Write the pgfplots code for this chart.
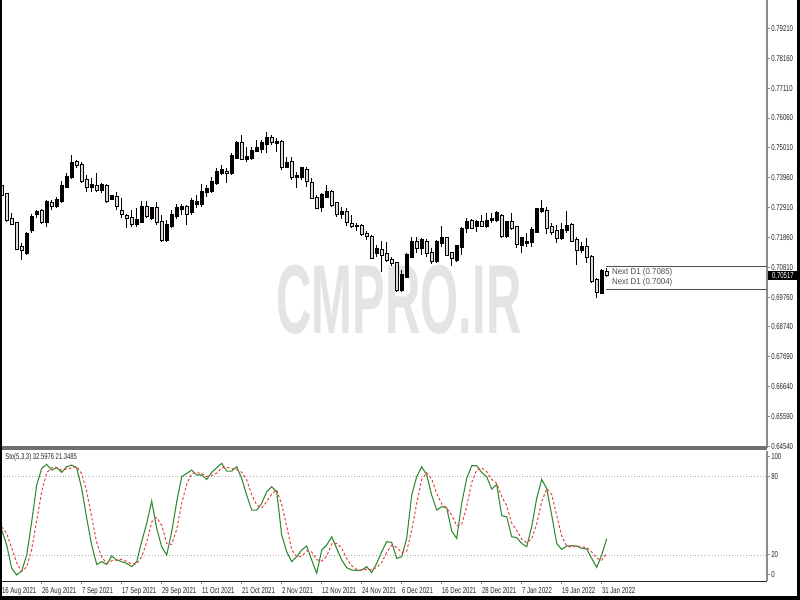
\documentclass[border=0pt]{standalone}
\usepackage{fontspec}
\setmainfont{Liberation Sans}[FakeStretch=0.7]
\newfontfamily\nextfont{Liberation Sans}[FakeStretch=0.92]
\newfontfamily\markfont{Liberation Sans}[FakeStretch=0.5]
\usepackage{pgfplots}
\usepackage{pgfplotstable}
\pgfplotsset{compat=1.18}

\definecolor{stoK}{RGB}{52,140,52}
\definecolor{stoD}{RGB}{232,64,64}
\definecolor{bearfill}{RGB}{226,216,219}
\definecolor{sepgray}{RGB}{112,112,112}
\definecolor{axgray}{RGB}{140,140,140}
\definecolor{lvlgray}{RGB}{175,175,175}
\definecolor{markgray}{RGB}{228,228,228}
\definecolor{nextgray}{RGB}{80,80,80}

\newcommand{\tickfont}{\fontsize{4.3}{5}\selectfont}

% daily bars, k = bar index from 16 Aug 2021
\pgfplotstableread{
k o h l c
0 0.7368 0.7375 0.7329 0.7336
1 0.7339 0.7343 0.7241 0.7248
2 0.7252 0.7273 0.7231 0.7234
3 0.7238 0.7241 0.7143 0.7146
4 0.7153 0.7167 0.7108 0.7143
5 0.7132 0.7206 0.7125 0.7199
6 0.7210 0.7269 0.7203 0.7259
7 0.7266 0.7283 0.7255 0.7276
8 0.7280 0.7287 0.7234 0.7238
9 0.7238 0.7318 0.7224 0.7311
10 0.7308 0.7318 0.7283 0.7297
11 0.7297 0.7329 0.7290 0.7318
12 0.7315 0.7385 0.7308 0.7368
13 0.7364 0.7413 0.7361 0.7399
14 0.7399 0.7476 0.7392 0.7448
15 0.7452 0.7459 0.7431 0.7438
16 0.7441 0.7452 0.7378 0.7382
17 0.7389 0.7406 0.7346 0.7364
18 0.7364 0.7396 0.7346 0.7371
19 0.7368 0.7413 0.7346 0.7353
20 0.7353 0.7378 0.7343 0.7371
21 0.7368 0.7375 0.7308 0.7315
22 0.7322 0.7336 0.7318 0.7332
23 0.7329 0.7346 0.7283 0.7297
24 0.7280 0.7325 0.7255 0.7266
25 0.7262 0.7269 0.7220 0.7252
26 0.7255 0.7283 0.7224 0.7231
27 0.7231 0.7290 0.7224 0.7248
28 0.7241 0.7315 0.7238 0.7294
29 0.7294 0.7315 0.7255 0.7262
30 0.7255 0.7294 0.7248 0.7290
31 0.7290 0.7311 0.7231 0.7241
32 0.7241 0.7266 0.7171 0.7178
33 0.7178 0.7248 0.7171 0.7231
34 0.7224 0.7283 0.7220 0.7266
35 0.7259 0.7304 0.7252 0.7290
36 0.7287 0.7304 0.7266 0.7294
37 0.7294 0.7301 0.7231 0.7269
38 0.7273 0.7325 0.7266 0.7315
39 0.7304 0.7336 0.7290 0.7311
40 0.7304 0.7375 0.7294 0.7346
41 0.7346 0.7371 0.7329 0.7357
42 0.7350 0.7399 0.7343 0.7382
43 0.7378 0.7431 0.7371 0.7417
44 0.7413 0.7441 0.7406 0.7424
45 0.7417 0.7431 0.7378 0.7410
46 0.7413 0.7483 0.7406 0.7473
47 0.7466 0.7525 0.7462 0.7518
48 0.7518 0.7547 0.7459 0.7462
49 0.7462 0.7504 0.7452 0.7469
50 0.7466 0.7504 0.7459 0.7490
51 0.7490 0.7529 0.7487 0.7501
52 0.7497 0.7529 0.7483 0.7518
53 0.7515 0.7557 0.7483 0.7539
54 0.7539 0.7547 0.7511 0.7522
55 0.7518 0.7536 0.7487 0.7525
56 0.7522 0.7529 0.7424 0.7431
57 0.7434 0.7469 0.7431 0.7448
58 0.7452 0.7469 0.7389 0.7399
59 0.7399 0.7417 0.7361 0.7403
60 0.7396 0.7434 0.7389 0.7431
61 0.7424 0.7434 0.7364 0.7382
62 0.7378 0.7396 0.7322 0.7325
63 0.7325 0.7336 0.7287 0.7290
64 0.7294 0.7343 0.7276 0.7336
65 0.7329 0.7371 0.7325 0.7346
66 0.7346 0.7353 0.7294 0.7301
67 0.7308 0.7311 0.7259 0.7266
68 0.7266 0.7294 0.7252 0.7276
69 0.7276 0.7290 0.7227 0.7238
70 0.7234 0.7266 0.7220 0.7224
71 0.7224 0.7238 0.7210 0.7227
72 0.7227 0.7234 0.7192 0.7199
73 0.7199 0.7210 0.7178 0.7189
74 0.7189 0.7196 0.7111 0.7115
75 0.7132 0.7160 0.7118 0.7146
76 0.7143 0.7174 0.7066 0.7125
77 0.7129 0.7171 0.7101 0.7108
78 0.7108 0.7118 0.7087 0.7094
79 0.7097 0.7101 0.6995 0.7002
80 0.7002 0.7073 0.6995 0.7055
81 0.7048 0.7132 0.7045 0.7125
82 0.7118 0.7189 0.7115 0.7171
83 0.7174 0.7189 0.7132 0.7150
84 0.7150 0.7185 0.7125 0.7178
85 0.7174 0.7182 0.7118 0.7132
86 0.7132 0.7150 0.7094 0.7101
87 0.7101 0.7178 0.7097 0.7171
88 0.7167 0.7227 0.7153 0.7185
89 0.7185 0.7189 0.7122 0.7125
90 0.7132 0.7136 0.7087 0.7115
91 0.7108 0.7160 0.7101 0.7157
92 0.7153 0.7224 0.7125 0.7217
93 0.7217 0.7255 0.7203 0.7241
94 0.7245 0.7252 0.7217 0.7220
95 0.7227 0.7248 0.7206 0.7241
96 0.7241 0.7266 0.7224 0.7227
97 0.7227 0.7273 0.7220 0.7245
98 0.7245 0.7273 0.7238 0.7252
99 0.7248 0.7280 0.7241 0.7273
100 0.7262 0.7269 0.7185 0.7189
101 0.7189 0.7245 0.7185 0.7241
102 0.7241 0.7273 0.7213 0.7220
103 0.7224 0.7227 0.7150 0.7164
104 0.7160 0.7189 0.7132 0.7185
105 0.7167 0.7203 0.7153 0.7171
106 0.7171 0.7224 0.7153 0.7213
107 0.7206 0.7290 0.7203 0.7287
108 0.7280 0.7318 0.7273 0.7287
109 0.7280 0.7294 0.7199 0.7217
110 0.7224 0.7238 0.7196 0.7206
111 0.7210 0.7231 0.7167 0.7185
112 0.7185 0.7238 0.7178 0.7213
113 0.7210 0.7280 0.7203 0.7227
114 0.7231 0.7238 0.7171 0.7174
115 0.7178 0.7189 0.7090 0.7143
116 0.7143 0.7171 0.7132 0.7153
117 0.7153 0.7185 0.7097 0.7118
118 0.7118 0.7125 0.7027 0.7034
119 0.7038 0.7045 0.6974 0.6995
120 0.6992 0.7076 0.6988 0.7069
121 0.7066 0.7080 0.7048 0.7052
}\ohlc

% Sto(5,3,3): K main line, D signal line
\pgfplotstableread{
k K D
0 39.1 41.7
1 27.6 36.5
2 9.8 25.5
3 4.7 14.0
4 7.7 7.4
5 20.0 10.8
6 45.5 24.4
7 73.6 46.4
8 86.4 68.5
9 89.4 83.1
10 85.1 87.0
11 86.9 87.1
12 83.3 85.1
13 87.6 85.9
14 88.9 86.6
15 86.9 87.8
16 71.0 82.3
17 48.1 68.7
18 27.6 48.9
19 12.8 29.5
20 14.9 18.4
21 12.8 13.5
22 19.2 15.6
23 16.2 16.1
24 14.9 16.8
25 13.6 14.9
26 11.1 13.2
27 14.9 13.2
28 30.2 18.7
29 44.3 29.8
30 61.3 45.3
31 40.4 48.7
32 26.3 42.7
33 20.0 28.9
34 37.9 28.1
35 60.8 39.6
36 80.0 59.6
37 82.5 74.4
38 85.1 82.5
39 81.3 83.0
40 81.3 82.6
41 77.9 80.2
42 83.3 80.8
43 86.9 82.7
44 90.2 86.8
45 84.3 87.1
46 84.3 86.3
47 87.6 85.4
48 78.7 83.5
49 65.9 77.4
50 54.4 66.3
51 54.4 58.2
52 59.6 56.1
53 68.5 60.8
54 72.3 66.8
55 68.5 69.8
56 35.3 58.7
57 22.5 42.1
58 14.9 24.2
59 18.7 18.7
60 23.8 19.1
61 26.9 23.1
62 16.2 22.3
63 6.0 16.4
64 23.8 15.3
65 27.6 19.1
66 34.0 28.5
67 25.1 28.9
68 16.2 25.1
69 10.3 17.2
70 8.5 11.7
71 8.0 8.9
72 8.5 8.3
73 11.1 9.2
74 6.5 8.7
75 13.6 10.4
76 22.5 14.2
77 30.2 22.1
78 29.7 27.5
79 17.4 25.8
80 18.7 21.9
81 32.7 22.9
82 65.9 39.1
83 80.0 59.5
84 87.6 77.8
85 81.3 83.0
86 65.9 78.3
87 54.4 67.2
88 57.0 59.1
89 56.2 55.9
90 38.4 50.5
91 32.7 42.4
92 59.6 43.6
93 78.7 57.0
94 88.4 75.6
95 88.4 85.2
96 83.3 86.7
97 80.0 83.9
98 70.5 77.9
99 74.1 74.9
100 50.1 64.9
101 49.3 57.8
102 34.0 44.5
103 33.3 38.9
104 28.9 32.1
105 26.3 29.5
106 41.7 32.3
107 63.4 43.8
108 77.9 61.0
109 71.0 70.8
110 50.6 66.5
111 28.9 50.2
112 24.3 34.6
113 26.9 26.7
114 27.1 26.1
115 26.9 27.0
116 25.1 26.4
117 24.6 25.5
118 17.4 22.4
119 10.5 17.5
120 20.0 16.0
121 32.6 21.3
}\sto

\begin{document}
\begin{tikzpicture}
\useasboundingbox (0,0) rectangle (400pt,300pt);
\fill[white] (0,0) rectangle (400pt,300pt);
% watermark behind everything
\node[text=markgray, font=\markfont\bfseries\fontsize{49}{50}\selectfont] at (199.5pt,150pt) {CMPRO.IR};

% price window
\begin{axis}[
  name=price, at={(0.5pt,76pt)}, anchor=south west, scale only axis,
  width=382.85pt, height=224pt,
  xmin=-0.14, xmax=153, ymin=0.64478, ymax=0.80203,
  clip=false,
  axis x line=none, axis y line*=right,
  y axis line style={-, axgray, line width=0.9pt},
  xtick=\empty,
  ytick={0.79210,0.78160,0.77110,0.76060,0.75010,0.73960,0.72910,0.71860,0.70810,0.69760,0.68740,0.67690,0.66640,0.65590,0.64540},
  yticklabels={0.79210,0.78160,0.77110,0.76060,0.75010,0.73960,0.72910,0.71860,0.70810,0.69760,0.68740,0.67690,0.66640,0.65590,0.64540},
  tick align=outside, major tick length=1.5pt,
  ytick style={axgray, line width=0.5pt},
  yticklabel style={font=\tickfont, inner sep=0.6pt, text=black!85},
]
% wicks
\addplot[draw=none, mark=none, error bars/.cd, y dir=plus, y explicit, error mark=none,
  error bar style={draw=black, line width=0.5pt}]
  table[x=k, y=l, y error expr=\thisrow{h}-\thisrow{l}] {\ohlc};
% up bars: black bodies
\addplot[draw=none, mark=none, restrict expr to domain={\thisrow{c}-\thisrow{o}}{0:1},
  error bars/.cd, y dir=plus, y explicit, error mark=none,
  error bar style={draw=black, line width=1.9pt, shorten <=-0.3pt, shorten >=-0.3pt}]
  table[x=k, y=o, y error expr=\thisrow{c}-\thisrow{o}] {\ohlc};
% down bars: outlined light bodies
\addplot[draw=none, mark=none, restrict expr to domain={\thisrow{o}-\thisrow{c}}{0:1},
  error bars/.cd, y dir=plus, y explicit, error mark=none,
  error bar style={draw=black, line width=2.0pt, shorten <=-0.3pt, shorten >=-0.3pt}]
  table[x=k, y=c, y error expr=\thisrow{o}-\thisrow{c}] {\ohlc};
\addplot[draw=none, mark=none, restrict expr to domain={\thisrow{o}-\thisrow{c}}{0:1},
  error bars/.cd, y dir=plus, y explicit, error mark=none,
  error bar style={draw=bearfill, line width=1.0pt, shorten <=0.2pt, shorten >=0.2pt}]
  table[x=k, y=c, y error expr=\thisrow{o}-\thisrow{c}] {\ohlc};
% next-day levels
\addplot[nextgray, line width=0.5pt] coordinates {(120.86,0.7085) (153,0.7085)};
\addplot[nextgray, line width=0.5pt] coordinates {(120.86,0.7004) (153,0.7004)};
\node[anchor=west, inner sep=0pt, text=nextgray, font=\nextfont\fontsize{4.3}{5}\selectfont] at (axis cs:122,0.7066) {Next D1 (0.7085)};
\node[anchor=west, inner sep=0pt, text=nextgray, font=\nextfont\fontsize{4.3}{5}\selectfont] at (axis cs:122,0.7029) {Next D1 (0.7004)};
\end{axis}

% stochastic window
\begin{axis}[
  name=sto, at={(0.5pt,9.45pt)}, anchor=south west, scale only axis,
  width=382.85pt, height=65.25pt,
  xmin=-0.14, xmax=153, ymin=0, ymax=100,
  axis x line*=bottom, axis y line*=right,
  x axis line style={-, black!85, line width=0.5pt},
  y axis line style={-, axgray, line width=0.9pt},
  xtick={0,8,...,120},
  xticklabels={16 Aug 2021,26 Aug 2021,7 Sep 2021,17 Sep 2021,29 Sep 2021,11 Oct 2021,21 Oct 2021,2 Nov 2021,12 Nov 2021,24 Nov 2021,6 Dec 2021,16 Dec 2021,28 Dec 2021,7 Jan 2022,19 Jan 2022,31 Jan 2022},
  ytick={4.7,20,80,95.8}, yticklabels={0,20,80,100},
  extra y ticks={20,80}, extra y tick labels={},
  extra y tick style={grid=major, major tick length=0pt,
    major grid style={lvlgray, densely dotted, line width=0.45pt}},
  tick align=outside, major tick length=1.5pt,
  tick style={axgray, line width=0.5pt},
  xticklabel style={font=\tickfont, anchor=north west, inner sep=0pt, yshift=-1.4pt, text=black!85},
  yticklabel style={font=\tickfont, inner sep=0.6pt, text=black!85},
]
\addplot[stoK, line width=0.55pt] table[x=k, y=K] {\sto};
\addplot[stoD, line width=0.5pt, dash pattern=on 1.3pt off 1.1pt] table[x=k, y=D] {\sto};
\end{axis}

% window separator and outer frame
\fill[sepgray] (0,74.75pt) rectangle (383.35pt,77pt);
\fill[black] (0,0) rectangle (400pt,2pt);
\fill[black] (398.5pt,0) rectangle (400pt,300pt);
\fill[black] (0,0) rectangle (1pt,300pt);
\node[anchor=west, inner sep=0pt, font=\fontsize{4.2}{5}\selectfont, text=black!85] at (2.5pt,71.5pt) {Sto(5,3,3) 32.5976 21.3485};
\node[fill=black, text=white, anchor=west, font=\tickfont, inner xsep=1.8pt, inner ysep=0.9pt] at (384pt,162.25pt) {0.70517};
\end{tikzpicture}
\end{document}
